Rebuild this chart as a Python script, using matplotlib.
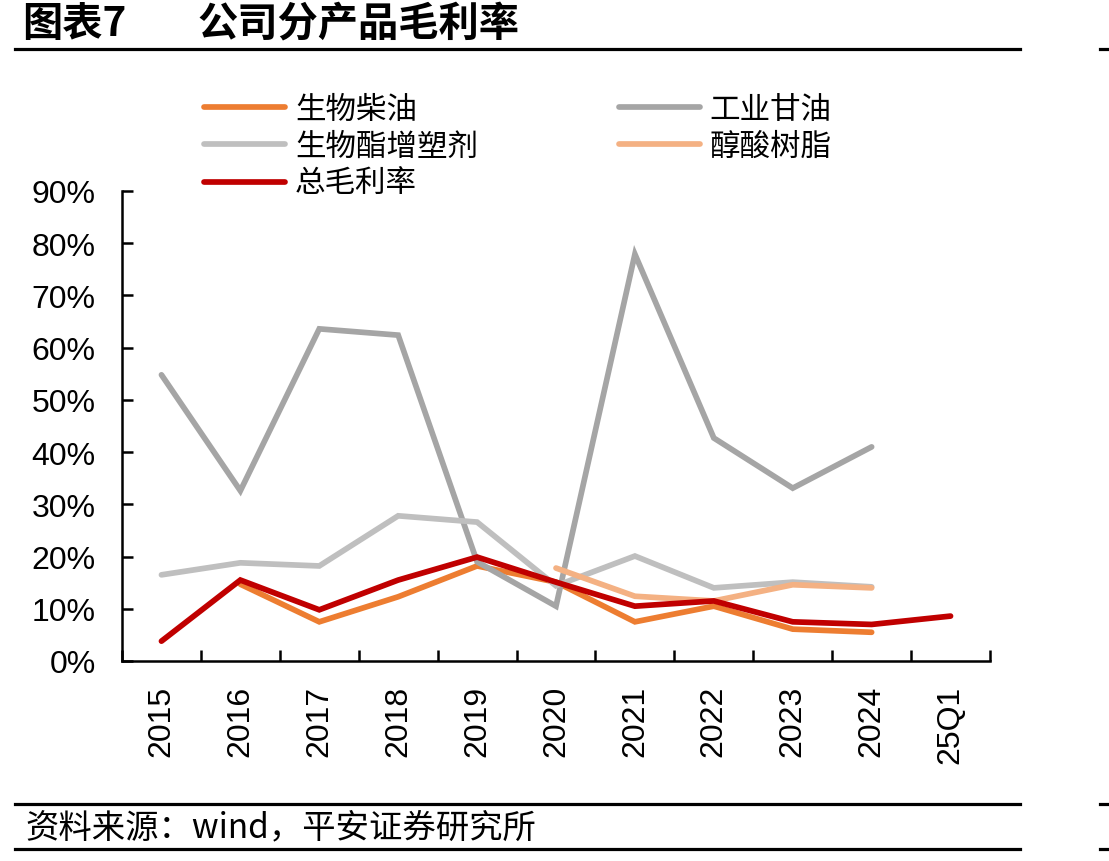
import numpy as np
import matplotlib
matplotlib.use("Agg")
import matplotlib.pyplot as plt
from matplotlib.lines import Line2D

plt.rcParams['font.family'] = ['Liberation Sans', 'Noto Sans CJK SC', 'DejaVu Sans']

categories = ['2015', '2016', '2017', '2018', '2019', '2020', '2021', '2022', '2023', '2024', '25Q1']
nan = np.nan
biodiesel = [nan, 14.7, 7.5, 12.3, 18.2, 15.1, 7.5, 10.5, 6.1, 5.5, nan]
glycerin = [54.8, 32.6, 63.6, 62.4, 19.0, 10.5, 77.9, 42.7, 33.1, 41.0, nan]
plasticizer = [16.5, 18.8, 18.2, 27.8, 26.6, 14.4, 20.1, 14.0, 15.1, 14.2, nan]
alkyd = [nan, nan, nan, nan, nan, 17.8, 12.4, 11.5, 14.6, 14.0, nan]
total = [3.8, 15.5, 9.8, 15.5, 19.9, 15.1, 10.5, 11.5, 7.5, 7.0, 8.6]
yticks = [0, 10, 20, 30, 40, 50, 60, 70, 80, 90]

series = [
    ('生物柴油', biodiesel, '#ED7D31'),
    ('工业甘油', glycerin, '#A5A5A5'),
    ('生物酯增塑剂', plasticizer, '#BFBFBF'),
    ('醇酸树脂', alkyd, '#F4B183'),
    ('总毛利率', total, '#C00000'),
]

W, H = 1109, 862
fig = plt.figure(figsize=(W / 100, H / 100), dpi=100)
ax = fig.add_axes([122 / W, 1 - 662 / H, (990 - 122) / W, (662 - 192) / H])

x = np.arange(len(categories))
handles = {}
for name, vals, col in series:
    v = np.array(vals, dtype=float) / 100.0
    ln, = ax.plot(x, v, color=col, lw=4.1, solid_capstyle='round', solid_joinstyle='miter', label=name)
    handles[name] = ln

ax.set_xlim(-0.5, len(categories) - 0.5)
ax.set_ylim(0, 0.9)
ax.set_yticks([t / 100 for t in yticks])
ax.set_yticklabels([f'{t}%' for t in yticks], fontsize=23, family='Liberation Sans')
ax.set_xticks(x)
ax.set_xticklabels(categories, rotation=90, fontsize=23, family='Liberation Sans')
ax.set_xticks(np.arange(-0.5, len(categories), 1), minor=True)
ax.tick_params(axis='x', which='major', length=0, pad=17)
ax.tick_params(axis='x', which='minor', length=8, width=1.8, direction='in')
ax.tick_params(axis='y', which='major', length=8, width=1.8, direction='in', pad=19)
for s in ['top', 'right']:
    ax.spines[s].set_visible(False)
for s in ['left', 'bottom']:
    ax.spines[s].set_linewidth(1.8)

# column-major order: col1 = 生物柴油, 生物酯增塑剂, 总毛利率 ; col2 = 工业甘油, 醇酸树脂
order = ['生物柴油', '生物酯增塑剂', '总毛利率', '工业甘油', '醇酸树脂']
leg = fig.legend([handles[n] for n in order], order, loc='upper left',
                 bbox_to_anchor=(204 / W, 1 - 95 / H), ncol=2, frameon=False,
                 prop={'family': 'Noto Sans CJK SC', 'size': 22},
                 handlelength=2.65, handletextpad=0.33, columnspacing=4.6,
                 labelspacing=0.2, borderpad=0, borderaxespad=0)

# title
fig.text(22 / W, 1 - 24 / H, '图表7', fontsize=29, fontweight='bold',
         family='Noto Sans CJK SC', va='center', ha='left')
fig.text(197 / W, 1 - 24 / H, '公司分产品毛利率', fontsize=29, fontweight='bold',
         family='Noto Sans CJK SC', va='center', ha='left')

# rules
for yy in [50, 805, 850]:
    fig.add_artist(Line2D([15 / W, 1020 / W], [1 - yy / H, 1 - yy / H], color='black', lw=2.3))
    fig.add_artist(Line2D([1100 / W, 1109 / W], [1 - yy / H, 1 - yy / H], color='black', lw=2.3))

fig.text(25 / W, 1 - 828 / H, '资料来源：wind，平安证券研究所', fontsize=24,
         family='Noto Sans CJK SC', va='center', ha='left')

fig.savefig('out.png', dpi=100)
